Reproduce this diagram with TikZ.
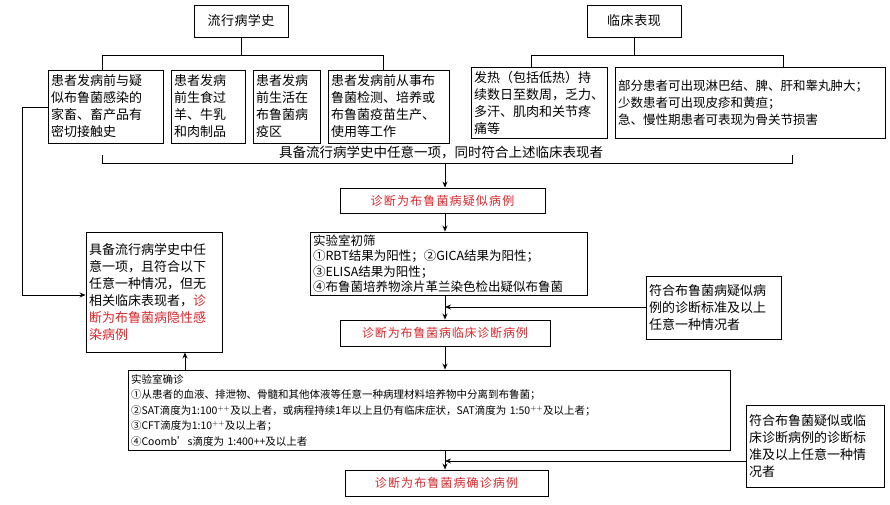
\documentclass[tikz,border=0pt]{standalone}
\usepackage{fontspec}
\setmainfont{Noto Sans CJK SC}
\XeTeXlinebreaklocale "zh"
\XeTeXlinebreakskip=0pt plus 1pt
\usetikzlibrary{arrows.meta}
\definecolor{redt}{RGB}{215,40,45}
\begin{document}
\begin{tikzpicture}[x=1pt,y=-1pt,
  bx/.style={draw,line width=0.9pt,inner sep=0pt,font=\fontsize{13}{17}\selectfont,align=left},
  ln/.style={line width=0.8pt},
  ar/.style={line width=0.8pt,-{Stealth[length=6pt,width=5pt]}}]
\useasboundingbox (0,0) rectangle (890,505);
\newcommand\bxat[6]{\node[bx,minimum width=#3-#2,minimum height=#5-#4,text width={\the\numexpr#3-#2-6\relax pt},#6] at ({(#2+#3)/2},{(#4+#5)/2})}
\bxat{ep}{194}{288}{5}{37}{align=center}(ep){流行病学史};
\bxat{cl}{587}{681}{5}{37}{align=center}(cl){临床表现};
\bxat{}{48}{163}{70}{143}{}(b1){患者发病前与疑\\似布鲁菌感染的\\家畜、畜产品有\\密切接触史};
\bxat{}{171}{245}{70}{143}{}(b2){患者发病\\前生食过\\羊、牛乳\\和肉制品};
\bxat{}{253}{320}{70}{143}{}(b3){患者发病\\前生活在\\布鲁菌病\\疫区};
\bxat{}{328}{449}{70}{143}{}(b4){患者发病前从事布\\鲁菌检测、培养或\\布鲁菌疫苗生产、\\使用等工作};
\bxat{}{471}{607}{67}{138}{}(b5){发热（包括低热）持\\续数日至数周，乏力、\\多汗、肌肉和关节疼\\痛等};
\bxat{}{615}{885}{67}{138}{font=\fontsize{12.5}{17}\selectfont}(b6){部分患者可出现淋巴结、脾、肝和睾丸肿大；\\少数患者可出现皮疹和黄疸；\\急、慢性期患者可表现为骨关节损害};
% braces
\coordinate (e1) at (241,55);
\draw[ln] (ep.south) -- (e1);
\draw[ln] (102,70) -- (102,55) -- (383,55) -- (383,70);
\draw[ln] (cl.south) -- (634,55);
\draw[ln] (531,67) -- (531,55) -- (783,55) -- (783,67);
\draw[ln] (102,155) -- (102,163) -- (792,163) -- (792,155);
\node[font=\fontsize{13.5}{15}\selectfont] (t1) at (441,152) {具备流行病学史中任意一项，同时符合上述临床表现者};
\coordinate (m1) at (445,163);
\bxat{}{340}{545}{188}{213}{align=center,text=redt,font=\fontsize{12}{15}\selectfont}(s1){诊断为布鲁菌病疑似病例};
\draw[ar] (m1) -- (s1.north -| m1);
\bxat{}{310}{587}{232}{295}{font=\fontsize{12.5}{15.5}\selectfont}(lab1){实验室初筛\\①RBT结果为阳性；②GICA结果为阳性；\\③ELISA结果为阳性；\\④布鲁菌培养物涂片革兰染色检出疑似布鲁菌};
\draw[ar] (s1.south -| m1) -- (lab1.north -| m1);
\bxat{}{340}{550}{320}{346}{align=center,text=redt,font=\fontsize{12}{15}\selectfont}(s2){诊断为布鲁菌病临床诊断病例};
\draw[ar] (lab1.south -| m1) -- (s2.north -| m1);
\bxat{}{646}{781}{276}{339}{}(r1){符合布鲁菌病疑似病\\例的诊断标准及以上\\任意一种情况者};
\draw[ar] (r1.west |- 0,307) -- (m1 |- 0,307);
\bxat{}{86}{222}{232}{352}{}(lt){具备流行病学史中任\\意一项，且符合以下\\任意一种情况，但无\\相关临床表现者，\textcolor{redt}{诊}\\\textcolor{redt}{断为布鲁菌病隐性感}\\\textcolor{redt}{染病例}};
\draw[ar] (b1.west |- 0,107) -- (22,107) -- (22,295) -- (lt.west |- 0,295);
\bxat{}{128}{730}{370}{450}{font=\fontsize{10.5}{15.5}\selectfont}(lab2){实验室确诊\\①从患者的血液、排泄物、骨髓和其他体液等任意一种病理材料培养物中分离到布鲁菌；\\②SAT滴度为1:100$^{++}$及以上者，或病程持续1年以上且仍有临床症状，SAT滴度为 1:50$^{++}$及以上者；\\③CFT滴度为1:10$^{++}$及以上者；\\④Coomb’s滴度为 1:400++及以上者};
\draw[ar] (s2.south -| m1) -- (lab2.north -| m1);
\draw[ar] (lab2.north -| 185,0) -- (lt.south -| 185,0);
\bxat{}{345}{548}{470}{496}{align=center,text=redt,font=\fontsize{12}{15}\selectfont}(s3){诊断为布鲁菌病确诊病例};
\draw[ar] (lab2.south -| m1) -- (s3.north -| m1);
\bxat{}{746}{884}{405}{487}{}(r2){符合布鲁菌疑似或临\\床诊断病例的诊断标\\准及以上任意一种情\\况者};
\draw[ar] (r2.west |- 0,461) -- (m1 |- 0,461);
\end{tikzpicture}
\end{document}
